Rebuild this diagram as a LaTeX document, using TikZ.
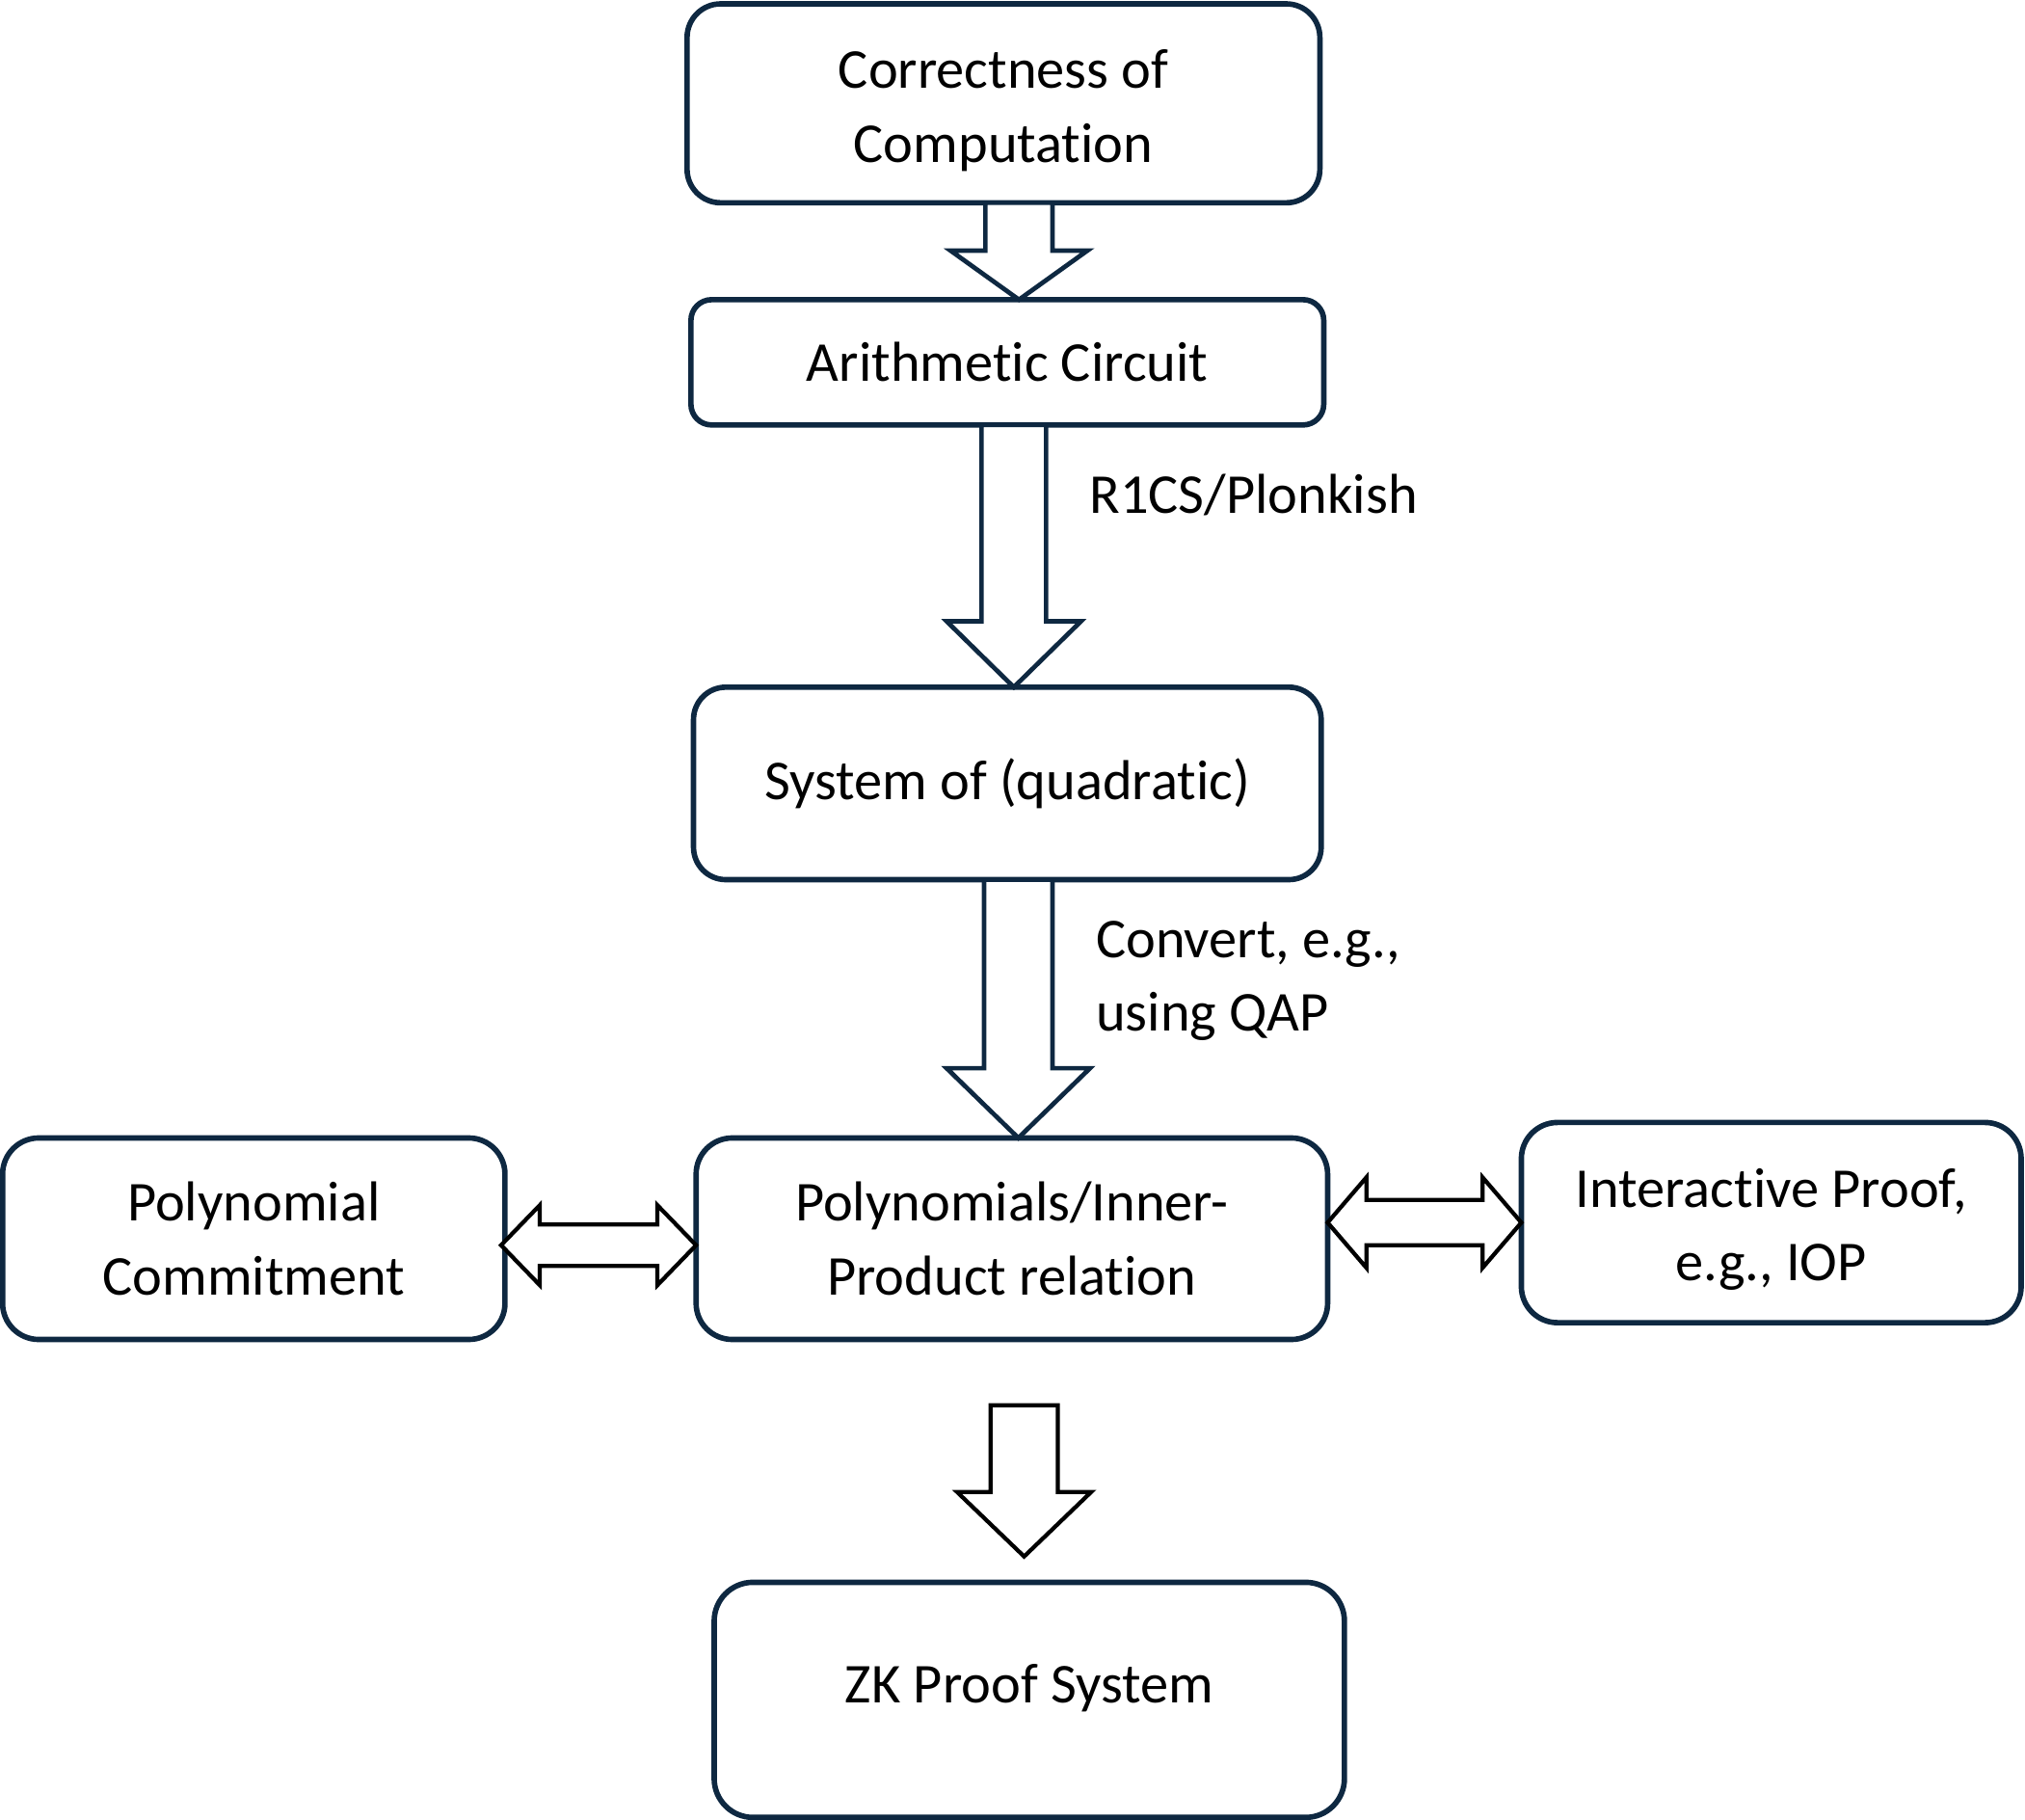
\documentclass[tikz,border=0pt]{standalone}
\usepackage{fontspec}
\setmainfont{Carlito}[Ligatures=NoCommon]
\usepackage{tikz}
\usetikzlibrary{positioning, calc}
\definecolor{navy}{HTML}{0E2841}
\tikzstyle{stage} = [rectangle, draw=navy, line width=1.2pt, outer sep=0pt, inner sep=0pt, minimum width=4.9cm, align=center, font=\fontsize{12.4}{16.2}\selectfont]
\tikzstyle{note} = [anchor=west, inner sep=0pt, align=left, font=\fontsize{12.4}{16.2}\selectfont]
\tikzstyle{blockarrow} = [draw=navy, line width=1pt, fill=white, line join=miter]
\tikzstyle{blackarrow} = [blockarrow, draw=black, line width=0.9pt]
% block arrow pointing down: top node, tip, shaft half width, head half width, head length
\newcommand{\downblock}[6][blockarrow]{%
  \draw[#1] let \p1=(#2), \p2=(#3) in
    (\x2-#4,\y1) -- (\x2-#4,\y2+#6) -- (\x2-#5,\y2+#6) -- (\x2,\y2)
    -- (\x2+#5,\y2+#6) -- (\x2+#4,\y2+#6) -- (\x2+#4,\y1) -- cycle;}
% block arrow pointing both ways: left tip, right tip, shaft half width, head half width, head length
\newcommand{\sideblock}[6][blackarrow]{%
  \draw[#1] let \p1=(#2), \p2=(#3) in
    (\x1,\y1) -- (\x1+#6,\y1+#5) -- (\x1+#6,\y1+#4) -- (\x2-#6,\y1+#4)
    -- (\x2-#6,\y1+#5) -- (\x2,\y1) -- (\x2-#6,\y1-#5) -- (\x2-#6,\y1-#4)
    -- (\x1+#6,\y1-#4) -- (\x1+#6,\y1-#5) -- cycle;}

\begin{document}
\begin{tikzpicture}
    \useasboundingbox (0,0) rectangle (15.68,-14.09);

    % Main column
    \node (corr) [stage, minimum height=1.54cm, rounded corners=0.26cm] at (7.77,-0.80) {\rule{0pt}{0.41cm}Correctness of\\Computation};
    \node (arith) [stage, below=0.75cm of corr, xshift=0.03cm, minimum height=0.97cm, rounded corners=0.16cm] {Arithmetic Circuit};
    \node (sys) [stage, below=2.03cm of arith, minimum width=4.86cm, minimum height=1.49cm, rounded corners=0.25cm] {System of (quadratic)};
    \node (poly) [stage, below=2.00cm of sys, xshift=0.035cm, minimum width=4.89cm, minimum height=1.56cm, rounded corners=0.28cm] {Polynomials/Inner-\\Product relation};
    \node (zk) [stage, below=1.88cm of poly, xshift=0.135cm, minimum width=4.88cm, minimum height=1.82cm, rounded corners=0.30cm, text height=0.30cm, text depth=0.25cm] {ZK Proof System};

    % Side boxes
    \node (comm) [stage, left=1.48cm of poly, minimum width=3.89cm, minimum height=1.56cm, rounded corners=0.28cm] {Polynomial\\Commitment};
    \node (iop) [stage, right=1.50cm of poly, yshift=0.125cm, minimum width=3.87cm, minimum height=1.55cm, rounded corners=0.28cm] {\rule{0pt}{0.41cm}Interactive Proof,\\e.g., IOP};

    % Labels
    \node (r1cs) [note] at ($(arith.south)+(0.63,-0.54)$) {R1CS/Plonkish};
    \node (qap) [note] at ($(sys.south)+(0.68,-0.785)$) {Convert, e.g.,\\using QAP};

    % Down arrows
    \downblock{corr.south}{$(arith.north)+(0.09,0)$}{0.26cm}{0.53cm}{0.38cm}
    \downblock{arith.south}{$(sys.north)+(0.05,0)$}{0.25cm}{0.52cm}{0.51cm}
    \downblock{sys.south}{$(poly.north)+(0.05,0)$}{0.265cm}{0.555cm}{0.54cm}
    \coordinate (a4top) at ($(poly.south)+(0.085,-0.51)$);
    \coordinate (a4tip) at ($(zk.north)+(-0.04,0.20)$);
    \downblock[blackarrow]{a4top}{a4tip}{0.26cm}{0.52cm}{0.50cm}

    % Two-way arrows
    \coordinate (pcl) at ($(comm.east)+(-0.03,-0.05)$);
    \coordinate (pcr) at ($(poly.west)+(0,-0.05)$);
    \sideblock{pcl}{pcr}{0.16cm}{0.31cm}{0.30cm}
    \coordinate (pil) at (poly.east |- iop.west);
    \sideblock{pil}{iop.west}{0.175cm}{0.35cm}{0.30cm}

\end{tikzpicture}
\end{document}
